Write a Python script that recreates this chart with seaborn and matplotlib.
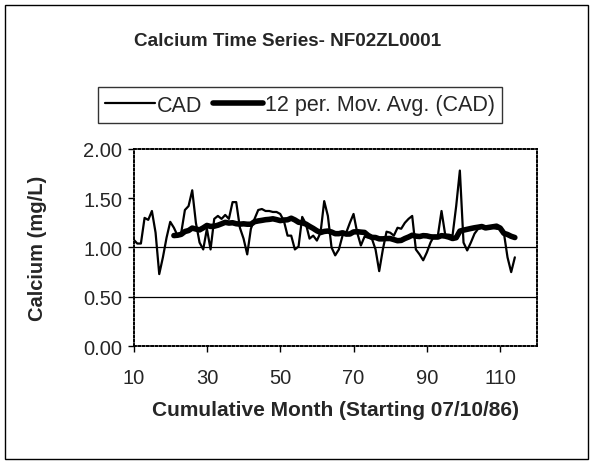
import numpy as np
import pandas as pd
import matplotlib
matplotlib.use("Agg")
import matplotlib.pyplot as plt
import seaborn as sns

months = list(range(10, 115))
cad = [1.08, 1.04, 1.04, 1.30, 1.28, 1.37, 1.15, 0.73, 0.90, 1.10,
       1.26, 1.20, 1.12, 1.15, 1.38, 1.42, 1.58, 1.25, 1.05, 0.98,
       1.19, 0.98, 1.29, 1.32, 1.29, 1.33, 1.29, 1.46, 1.46, 1.20,
       1.09, 0.93, 1.19, 1.29, 1.38, 1.39, 1.37, 1.37, 1.36, 1.36,
       1.34, 1.27, 1.12, 1.12, 0.98, 1.01, 1.31, 1.24, 1.09, 1.12,
       1.07, 1.15, 1.47, 1.32, 1.00, 0.92, 0.98, 1.12, 1.15, 1.25,
       1.34, 1.15, 1.02, 1.11, 1.10, 1.09, 0.98, 0.76, 0.98, 1.16,
       1.15, 1.12, 1.20, 1.19, 1.25, 1.29, 1.32, 0.98, 0.93, 0.87,
       0.95, 1.05, 1.12, 1.12, 1.37, 1.13, 1.13, 1.12, 1.42, 1.78,
       1.05, 0.97, 1.05, 1.14, 1.19, 1.20, 1.20, 1.20, 1.20, 1.19,
       1.19, 1.15, 0.90, 0.75, 0.90]
ma_window = 12

title = "Calcium Time Series- NF02ZL0001"
xlabel = "Cumulative Month (Starting 07/10/86)"
ylabel = "Calcium (mg/L)"
xticks = [10, 30, 50, 70, 90, 110]
yticks = [0.0, 0.5, 1.0, 1.5, 2.0]
legend_labels = ["CAD", "12 per. Mov. Avg. (CAD)"]

df = pd.DataFrame({"month": months, "cad": cad})
df["ma"] = df["cad"].rolling(ma_window).mean()

sns.set_theme(style="white")
plt.rcParams["font.family"] = ["Liberation Sans", "DejaVu Sans"]

fig = plt.figure(figsize=(5.9, 4.64), dpi=100)
ax = fig.add_axes([0.2264, 0.252, 0.6835, 0.425])

sns.lineplot(data=df, x="month", y="cad", ax=ax, color="black", linewidth=1.6,
             label=legend_labels[0])
sns.lineplot(data=df.dropna(), x="month", y="ma", ax=ax, color="black", linewidth=4.0,
             label=legend_labels[1], solid_capstyle="round")

for yv in [0.5, 1.0]:
    ax.axhline(yv, color="black", linewidth=0.9, zorder=0)

ax.set_xlim(10, 120)
ax.set_ylim(0, 2.0)
ax.set_xticks(xticks)
ax.set_yticks(yticks)
ax.set_yticklabels([f"{v:.2f}" for v in yticks])
ax.tick_params(axis="both", labelsize=14.5, direction="out", length=4, width=1,
               color="black", bottom=True, left=True)
ax.tick_params(axis="x", pad=12)
ax.tick_params(axis="y", pad=4)

for s in ax.spines.values():
    s.set_visible(True)
    s.set_color("black")
    s.set_linewidth(1.4)
    s.set_linestyle((0, (1, 1.2)))

ax.set_xlabel(xlabel, fontsize=15, fontweight="bold", labelpad=9)
ax.set_ylabel(ylabel, fontsize=14.5, fontweight="bold", labelpad=26)

ax.get_legend().remove()
handles, labels = ax.get_legend_handles_labels()
leg = fig.legend(handles, labels, loc="center", bbox_to_anchor=(300 / 590, 1 - 106 / 464),
                 ncol=2, fontsize=15.5, frameon=True, fancybox=False, edgecolor="black",
                 handlelength=2.3, handletextpad=0.1, columnspacing=0.5,
                 borderpad=0.35, borderaxespad=0)
leg.get_frame().set_linewidth(1.0)

fig.text(288 / 590, 1 - 42 / 464, title, ha="center", va="center", fontsize=13.6,
         fontweight="bold")

# outer frame
fig.patches.append(plt.Rectangle((0.008, 0.008), 0.988, 0.978, transform=fig.transFigure,
                                 fill=False, edgecolor="black", linewidth=1.0))

fig.savefig("out.png", dpi=100)
